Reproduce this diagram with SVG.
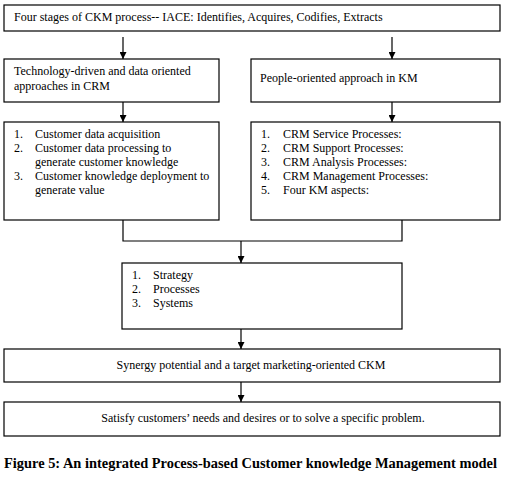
<svg xmlns="http://www.w3.org/2000/svg" width="508" height="479" viewBox="0 0 508 479">
<defs>
<marker id="ah" markerWidth="7" markerHeight="7" refX="7" refY="3.5" orient="auto" markerUnits="userSpaceOnUse" viewBox="0 0 7 7">
<path d="M0,0 L7,3.5 L0,7 Z" fill="#000"/>
</marker>
</defs>
<style>
.box{fill:#fff;stroke:#000;stroke-width:1.2}
.t{font-family:"Liberation Serif","Times New Roman",serif;font-size:12px;fill:#000}
.c{text-anchor:middle}
.ln{fill:none;stroke:#000;stroke-width:1.2}
.cap{font-family:"Liberation Serif","Times New Roman",serif;font-size:14px;font-weight:bold;fill:#000}
</style>
<rect width="508" height="479" fill="#fff"/>
<g id="connectors">
<line class="ln" x1="123" y1="37" x2="123" y2="59" marker-end="url(#ah)"/>
<line class="ln" x1="392" y1="37" x2="392" y2="59" marker-end="url(#ah)"/>
<line class="ln" x1="123" y1="102" x2="123" y2="122" marker-end="url(#ah)"/>
<line class="ln" x1="392" y1="102" x2="392" y2="122" marker-end="url(#ah)"/>
<polyline class="ln" points="123,220 123,241 402,241 402,220"/>
<line class="ln" x1="241" y1="241" x2="241" y2="263" marker-end="url(#ah)"/>
<line class="ln" x1="241" y1="329" x2="241" y2="349" marker-end="url(#ah)"/>
<line class="ln" x1="241" y1="382" x2="241" y2="402" marker-end="url(#ah)"/>
</g>
<g id="n1">
<rect class="box" x="4" y="5" width="496" height="26"/>
<text class="t" x="14" y="21">Four stages of CKM process-- IACE: Identifies, Acquires, Codifies, Extracts</text>
</g>
<g id="n2">
<rect class="box" x="4" y="59" width="215" height="43"/>
<text class="t" x="14" y="75">Technology-driven and data oriented</text>
<text class="t" x="14" y="90">approaches in CRM</text>
</g>
<g id="n3">
<rect class="box" x="251" y="59" width="249" height="43"/>
<text class="t" x="260" y="82">People-oriented approach in KM</text>
</g>
<g id="n4">
<rect class="box" x="4" y="122" width="215" height="98"/>
<text class="t" x="14" y="138">1.</text><text class="t" x="35" y="138">Customer data acquisition</text>
<text class="t" x="14" y="152">2.</text><text class="t" x="35" y="152">Customer data processing to</text>
<text class="t" x="35" y="166">generate customer knowledge</text>
<text class="t" x="14" y="180">3.</text><text class="t" x="35" y="180">Customer knowledge deployment to</text>
<text class="t" x="35" y="194">generate value</text>
</g>
<g id="n5">
<rect class="box" x="251" y="122" width="249" height="98"/>
<text class="t" x="261" y="138">1.</text><text class="t" x="283" y="138">CRM Service Processes:</text>
<text class="t" x="261" y="152">2.</text><text class="t" x="283" y="152">CRM Support Processes:</text>
<text class="t" x="261" y="166">3.</text><text class="t" x="283" y="166">CRM Analysis Processes:</text>
<text class="t" x="261" y="180">4.</text><text class="t" x="283" y="180">CRM Management Processes:</text>
<text class="t" x="261" y="194">5.</text><text class="t" x="283" y="194">Four KM aspects:</text>
</g>
<g id="n6">
<rect class="box" x="122" y="263" width="280" height="66"/>
<text class="t" x="132" y="279">1.</text><text class="t" x="153" y="279">Strategy</text>
<text class="t" x="132" y="293">2.</text><text class="t" x="153" y="293">Processes</text>
<text class="t" x="132" y="307">3.</text><text class="t" x="153" y="307">Systems</text>
</g>
<g id="n7">
<rect class="box" x="4" y="349" width="496" height="33"/>
<text class="t c" x="251" y="369">Synergy potential and a target marketing-oriented CKM</text>
</g>
<g id="n8">
<rect class="box" x="4" y="402" width="496" height="34"/>
<text class="t c" x="263" y="422">Satisfy customers’ needs and desires or to solve a specific problem.</text>
</g>
<text class="cap" x="4" y="468" textLength="493" lengthAdjust="spacingAndGlyphs">Figure 5: An integrated Process-based Customer knowledge Management model</text>
</svg>
